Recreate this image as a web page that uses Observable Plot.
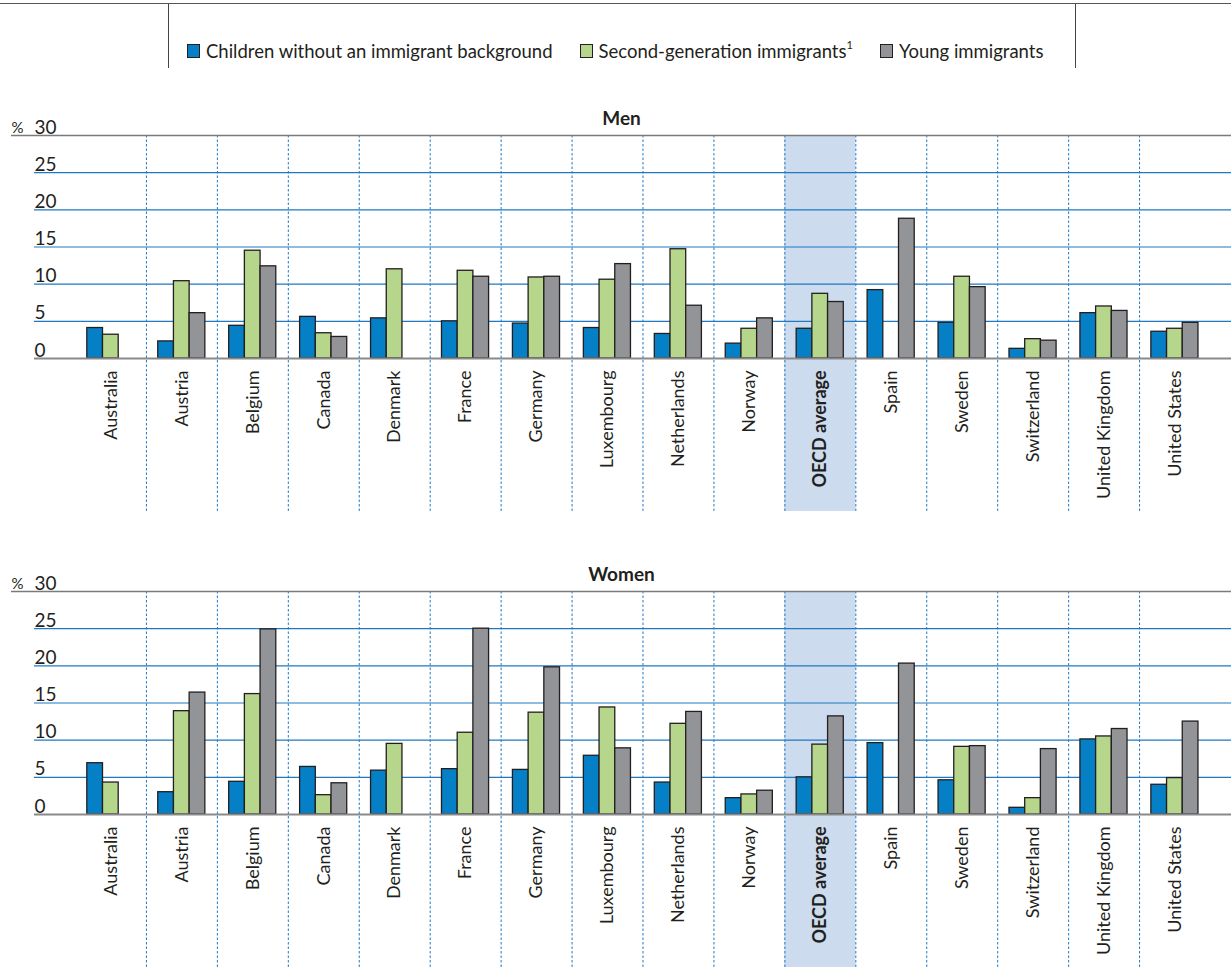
<!DOCTYPE html>
<html>
<head>
<meta charset="utf-8">
<script src="https://cdn.jsdelivr.net/npm/d3@7"></script>
<script src="https://cdn.jsdelivr.net/npm/@observablehq/plot@0.6"></script>
<style>
  body { margin: 0; background: #fff; font-family: Lato, "Open Sans", sans-serif; color: #231f20; }
  #wrap { position: relative; width: 1231px; height: 967px; overflow: hidden; }
  .legendbox { position: absolute; left: 0; top: 3px; width: 1231px; height: 66px; border-top: 1.5px solid #555; }
  .vline { position: absolute; top: 4px; height: 64px; border-left: 1px solid #444; }
  .legend { position: absolute; top: 40px; left: 187px; font-size: 18.5px; display: flex; align-items: center; white-space: nowrap; }
  .sw { display: inline-block; width: 13px; height: 14px; border: 1px solid #231f20; margin-right: 6px; box-sizing: border-box; }
  .item { display: inline-flex; align-items: center; margin-right: 27px; }
  .panel { position: absolute; left: 0; }
</style>
</head>
<body>
<div id="wrap">
  <div class="legendbox"></div>
  <div class="vline" style="left:168px"></div>
  <div class="vline" style="left:1075px"></div>
  <div class="legend" id="legend"></div>
  <div class="panel" id="men" style="top:100.7px"></div>
  <div class="panel" id="women" style="top:557px"></div>
</div>
<script>
const countries = ["Australia","Austria","Belgium","Canada","Denmark","France","Germany","Luxembourg","Netherlands","Norway","OECD average","Spain","Sweden","Switzerland","United Kingdom","United States"];
const seriesNames = ["Children without an immigrant background","Second-generation immigrants","Young immigrants"];
const seriesColors = ["#0580c6","#b6d68b","#929497"];
const yTicks = [0,5,10,15,20,25,30];

const menNoBackground   = [4.1, 2.3, 4.4, 5.6, 5.4, 5.0, 4.7, 4.1, 3.3, 2.0, 4.0, 9.2, 4.8, 1.3, 6.1, 3.6];
const menSecondGen      = [3.2, 10.4, 14.5, 3.4, 12.0, 11.8, 10.9, 10.6, 14.7, 4.0, 8.7, null, 11.0, 2.6, 7.0, 4.0];
const menYoung          = [null, 6.1, 12.4, 2.9, null, 11.0, 11.0, 12.7, 7.1, 5.4, 7.6, 18.8, 9.6, 2.4, 6.4, 4.8];

const womenNoBackground = [6.9, 3.0, 4.4, 6.4, 5.9, 6.1, 6.0, 7.9, 4.3, 2.2, 5.0, 9.6, 4.6, 0.9, 10.1, 4.0];
const womenSecondGen    = [4.3, 13.9, 16.2, 2.6, 9.5, 11.0, 13.7, 14.4, 12.2, 2.7, 9.4, null, 9.1, 2.2, 10.5, 4.9];
const womenYoung        = [null, 16.4, 24.9, 4.2, null, 25.0, 19.8, 8.9, 13.8, 3.2, 13.2, 20.3, 9.2, 8.8, 11.5, 12.5];

// legend
const legend = document.getElementById("legend");
seriesNames.forEach((name, i) => {
  const item = document.createElement("span");
  item.className = "item";
  const sw = document.createElement("span");
  sw.className = "sw";
  sw.style.background = seriesColors[i];
  item.appendChild(sw);
  const t = document.createElement("span");
  t.innerHTML = name + (i === 1 ? "<sup style='font-size:11px;position:relative;top:-2px'>1</sup>" : "");
  item.appendChild(t);
  legend.appendChild(item);
});

const W = 1231, H = 410, mL = 11, mR = 0, mT = 34, mB = 153;
const insL = 64, insR = 21;
const bw = (W - mL - mR - insL - insR) / countries.length;
const groupOff = 11.8, barW = 15.7;
const yPerUnit = (H - mT - mB) / 30;
const yBottom = -(mB) / yPerUnit;

function panel(title, series) {
  const marks = [];
  // OECD shading
  marks.push(Plot.barY(["OECD average"], {x: d => d, y1: 30, y2: yBottom, fill: "#ccdbee", insetLeft: 0, insetRight: 0}));
  // gridlines
  marks.push(Plot.ruleY(yTicks.filter(v => v > 0 && v < 30), {y: d => d, stroke: "#1f78c1", strokeWidth: 1.2, insetLeft: 23}));
  // separators
  marks.push(Plot.ruleX(countries.slice(1), {x: d => d, dx: -bw / 2, y1: 30, y2: yBottom, stroke: "#1f7ac4", strokeWidth: 1, strokeDasharray: "2.5,2"}));
  // bars
  series.forEach((vals, i) => {
    const data = countries.map((c, j) => ({country: c, value: vals[j]})).filter(d => d.value != null);
    marks.push(Plot.barY(data, {
      x: "country", y: "value", fill: seriesColors[i], stroke: "#231f20", strokeWidth: 1.3,
      insetLeft: groupOff + i * barW, insetRight: bw - groupOff - (i + 1) * barW
    }));
  });
  // zero line and top line
  marks.push(Plot.ruleY([0], {y: d => d, stroke: "#8a8a8a", strokeWidth: 2, insetLeft: 23}));
  marks.push(Plot.ruleY([30], {y: d => d, stroke: "#7a7a7a", strokeWidth: 1.6}));
  // y tick labels
  marks.push(Plot.text(yTicks, {y: d => d, text: d => String(d), frameAnchor: "left", dx: 23, dy: -2, textAnchor: "start", lineAnchor: "bottom", fontSize: 19, fill: "#231f20"}));
  marks.push(Plot.text(["%"], {y: () => 30, text: d => d, frameAnchor: "left", dx: 0, dy: -3, textAnchor: "start", lineAnchor: "bottom", fontSize: 15, fill: "#231f20"}));
  // category labels
  marks.push(Plot.text(countries.filter(c => c !== "OECD average"), {x: d => d, y: () => 0, text: d => d, rotate: -90, textAnchor: "end", dy: 12, fontSize: 18, fill: "#231f20"}));
  marks.push(Plot.text(["OECD average"], {x: d => d, y: () => 0, text: d => d, rotate: -90, textAnchor: "end", dy: 12, fontSize: 18, fontWeight: "bold", fill: "#231f20"}));
  // title
  marks.push(Plot.text([title], {text: d => d, frameAnchor: "top", lineAnchor: "middle", dy: -17, fontSize: 19, fontWeight: "bold", fill: "#231f20"}));

  return Plot.plot({
    width: W, height: H,
    marginLeft: mL, marginRight: mR, marginTop: mT, marginBottom: mB,
    style: {fontFamily: "Lato, 'Open Sans', sans-serif", background: "transparent", overflow: "visible"},
    x: {type: "band", domain: countries, padding: 0, round: false, insetLeft: insL, insetRight: insR, axis: null},
    y: {domain: [0, 30], axis: null},
    marks
  });
}

document.getElementById("men").appendChild(panel("Men", [menNoBackground, menSecondGen, menYoung]));
document.getElementById("women").appendChild(panel("Women", [womenNoBackground, womenSecondGen, womenYoung]));
</script>
</body>
</html>
